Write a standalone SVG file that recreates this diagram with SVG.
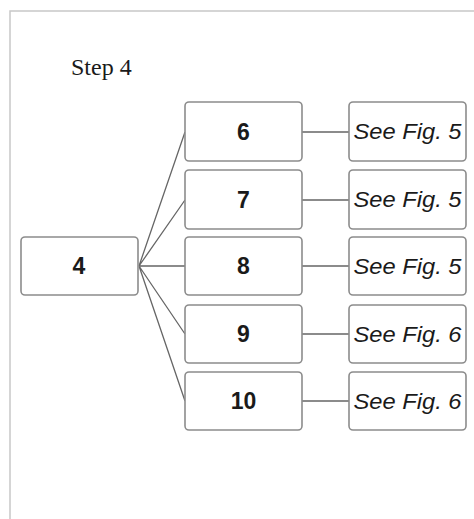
<svg xmlns="http://www.w3.org/2000/svg" width="474" height="519" viewBox="0 0 474 519">
<style>
.box{fill:#fff;stroke:#8c8c8c;stroke-width:1.6}
.num{font-family:"Liberation Sans",Arial,sans-serif;font-weight:bold;font-size:23px;fill:#1a1a1a;text-anchor:middle}
.ref{font-family:"Liberation Sans",Arial,sans-serif;font-style:italic;font-size:22px;fill:#1a1a1a;text-anchor:middle}
.conn{stroke:#666;stroke-width:1.3;fill:none}
</style>
<rect width="474" height="519" fill="#fff"/>
<g id="frame"><path d="M10 519 V11 H474" fill="none" stroke="#c8c8c8" stroke-width="1.5"/></g>
<text x="71" y="75" font-family="Liberation Serif,'Times New Roman',serif" font-size="24" fill="#1a1a1a">Step 4</text>
<g id="connectors">
<path class="conn" d="M139 266 L185 132 M139 266 L185 200 M139 266 L185 266 M139 266 L185 334 M139 266 L185 401"/>
<path class="conn" d="M302 132 H349 M302 200 H349 M302 266 H349 M302 334 H349 M302 401 H349"/>
</g>
<g id="n4"><rect class="box" x="21" y="237" width="117" height="58" rx="4"/><text class="num" x="79" y="274">4</text></g>
<g id="n6"><rect class="box" x="185" y="102" width="117" height="59" rx="4"/><text class="num" x="243.5" y="140">6</text></g>
<g id="n7"><rect class="box" x="185" y="170" width="117" height="59" rx="4"/><text class="num" x="243.5" y="208">7</text></g>
<g id="n8"><rect class="box" x="185" y="237" width="117" height="58" rx="4"/><text class="num" x="243.5" y="274">8</text></g>
<g id="n9"><rect class="box" x="185" y="305" width="117" height="58" rx="4"/><text class="num" x="243.5" y="342">9</text></g>
<g id="n10"><rect class="box" x="185" y="372" width="117" height="58" rx="4"/><text class="num" x="243.5" y="409">10</text></g>
<g id="r6"><rect class="box" x="349" y="102" width="117" height="59" rx="4"/><text class="ref" x="407.5" y="139" textLength="108" lengthAdjust="spacingAndGlyphs">See Fig. 5</text></g>
<g id="r7"><rect class="box" x="349" y="170" width="117" height="59" rx="4"/><text class="ref" x="407.5" y="207" textLength="108" lengthAdjust="spacingAndGlyphs">See Fig. 5</text></g>
<g id="r8"><rect class="box" x="349" y="237" width="117" height="58" rx="4"/><text class="ref" x="407.5" y="274" textLength="108" lengthAdjust="spacingAndGlyphs">See Fig. 5</text></g>
<g id="r9"><rect class="box" x="349" y="305" width="117" height="58" rx="4"/><text class="ref" x="407.5" y="342" textLength="108" lengthAdjust="spacingAndGlyphs">See Fig. 6</text></g>
<g id="r10"><rect class="box" x="349" y="372" width="117" height="58" rx="4"/><text class="ref" x="407.5" y="409" textLength="108" lengthAdjust="spacingAndGlyphs">See Fig. 6</text></g>
</svg>
